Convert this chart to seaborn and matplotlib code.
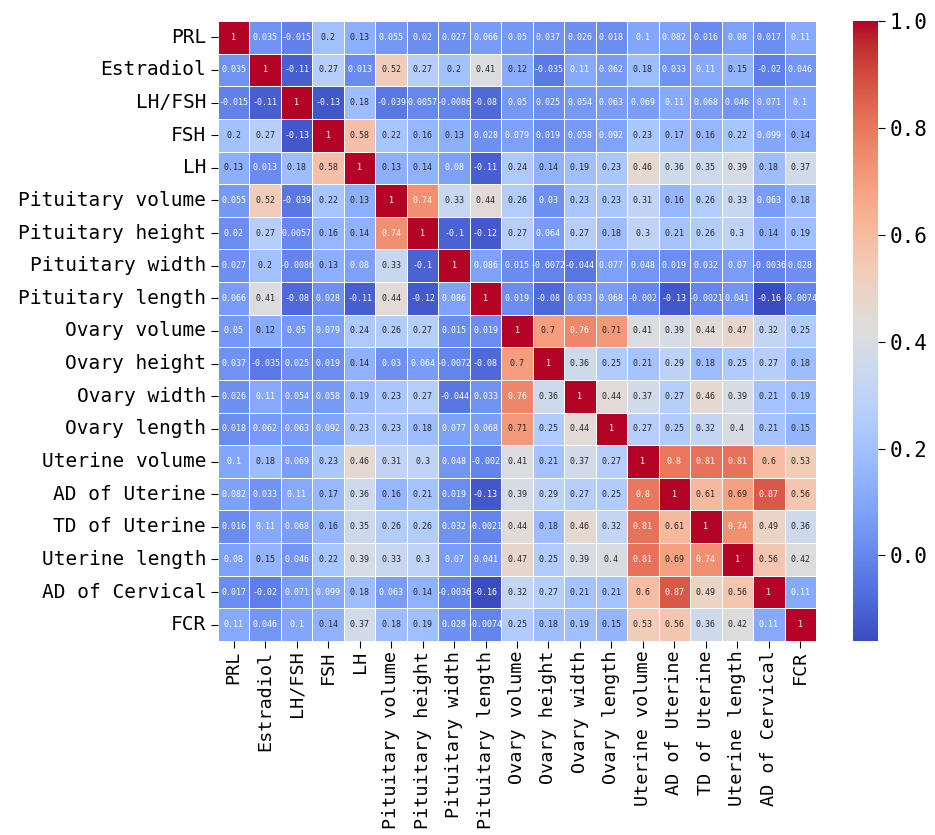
import numpy as np
import pandas as pd
import matplotlib
matplotlib.use("Agg")
import matplotlib.pyplot as plt
import seaborn as sns

# variable names (rows and columns of the correlation matrix)
labels = ["PRL", "Estradiol", "LH/FSH", "FSH", "LH",
          "Pituitary volume", "Pituitary height", "Pituitary width", "Pituitary length",
          "Ovary volume", "Ovary height", "Ovary width", "Ovary length",
          "Uterine volume", "AD of Uterine", "TD of Uterine", "Uterine length",
          "AD of Cervical", "FCR"]

# one list per row
prl = [1, 0.035, -0.015, 0.2, 0.13, 0.055, 0.02, 0.027, 0.066, 0.05, 0.037, 0.026, 0.018, 0.1, 0.082, 0.016, 0.08, 0.017, 0.11]
estradiol = [0.035, 1, -0.11, 0.27, 0.013, 0.52, 0.27, 0.2, 0.41, 0.12, -0.035, 0.11, 0.062, 0.18, 0.033, 0.11, 0.15, -0.02, 0.046]
lh_fsh = [-0.015, -0.11, 1, -0.13, 0.18, -0.039, 0.0057, -0.0086, -0.08, 0.05, 0.025, 0.054, 0.063, 0.069, 0.11, 0.068, 0.046, 0.071, 0.1]
fsh = [0.2, 0.27, -0.13, 1, 0.58, 0.22, 0.16, 0.13, 0.028, 0.079, 0.019, 0.058, 0.092, 0.23, 0.17, 0.16, 0.22, 0.099, 0.14]
lh = [0.13, 0.013, 0.18, 0.58, 1, 0.13, 0.14, 0.08, -0.11, 0.24, 0.14, 0.19, 0.23, 0.46, 0.36, 0.35, 0.39, 0.18, 0.37]
pit_vol = [0.055, 0.52, -0.039, 0.22, 0.13, 1, 0.74, 0.33, 0.44, 0.26, 0.03, 0.23, 0.23, 0.31, 0.16, 0.26, 0.33, 0.063, 0.18]
pit_height = [0.02, 0.27, 0.0057, 0.16, 0.14, 0.74, 1, -0.1, -0.12, 0.27, 0.064, 0.27, 0.18, 0.3, 0.21, 0.26, 0.3, 0.14, 0.19]
pit_width = [0.027, 0.2, -0.0086, 0.13, 0.08, 0.33, -0.1, 1, 0.086, 0.015, -0.0072, -0.044, 0.077, 0.048, 0.019, 0.032, 0.07, -0.0036, 0.028]
pit_length = [0.066, 0.41, -0.08, 0.028, -0.11, 0.44, -0.12, 0.086, 1, 0.019, -0.08, 0.033, 0.068, -0.002, -0.13, -0.0021, 0.041, -0.16, -0.0074]
ov_vol = [0.05, 0.12, 0.05, 0.079, 0.24, 0.26, 0.27, 0.015, 0.019, 1, 0.7, 0.76, 0.71, 0.41, 0.39, 0.44, 0.47, 0.32, 0.25]
ov_height = [0.037, -0.035, 0.025, 0.019, 0.14, 0.03, 0.064, -0.0072, -0.08, 0.7, 1, 0.36, 0.25, 0.21, 0.29, 0.18, 0.25, 0.27, 0.18]
ov_width = [0.026, 0.11, 0.054, 0.058, 0.19, 0.23, 0.27, -0.044, 0.033, 0.76, 0.36, 1, 0.44, 0.37, 0.27, 0.46, 0.39, 0.21, 0.19]
ov_length = [0.018, 0.062, 0.063, 0.092, 0.23, 0.23, 0.18, 0.077, 0.068, 0.71, 0.25, 0.44, 1, 0.27, 0.25, 0.32, 0.4, 0.21, 0.15]
ut_vol = [0.1, 0.18, 0.069, 0.23, 0.46, 0.31, 0.3, 0.048, -0.002, 0.41, 0.21, 0.37, 0.27, 1, 0.8, 0.81, 0.81, 0.6, 0.53]
ad_ut = [0.082, 0.033, 0.11, 0.17, 0.36, 0.16, 0.21, 0.019, -0.13, 0.39, 0.29, 0.27, 0.25, 0.8, 1, 0.61, 0.69, 0.87, 0.56]
td_ut = [0.016, 0.11, 0.068, 0.16, 0.35, 0.26, 0.26, 0.032, -0.0021, 0.44, 0.18, 0.46, 0.32, 0.81, 0.61, 1, 0.74, 0.49, 0.36]
ut_length = [0.08, 0.15, 0.046, 0.22, 0.39, 0.33, 0.3, 0.07, 0.041, 0.47, 0.25, 0.39, 0.4, 0.81, 0.69, 0.74, 1, 0.56, 0.42]
ad_cerv = [0.017, -0.02, 0.071, 0.099, 0.18, 0.063, 0.14, -0.0036, -0.16, 0.32, 0.27, 0.21, 0.21, 0.6, 0.87, 0.49, 0.56, 1, 0.11]
fcr = [0.11, 0.046, 0.1, 0.14, 0.37, 0.18, 0.19, 0.028, -0.0074, 0.25, 0.18, 0.19, 0.15, 0.53, 0.56, 0.36, 0.42, 0.11, 1]

rows = [prl, estradiol, lh_fsh, fsh, lh, pit_vol, pit_height, pit_width, pit_length,
        ov_vol, ov_height, ov_width, ov_length, ut_vol, ad_ut, td_ut, ut_length, ad_cerv, fcr]
corr = pd.DataFrame(rows, index=labels, columns=labels)

plt.rcParams['font.family'] = ['DejaVu Sans Mono', 'DejaVu Sans']

fig = plt.figure(figsize=(9.35, 8.35), dpi=100)
ax = fig.add_axes([218 / 935, 1 - 641 / 835, 598 / 935, 620 / 835])
cax = fig.add_axes([853 / 935, 1 - 641 / 835, 25 / 935, 620 / 835])

sns.heatmap(corr, ax=ax, cbar_ax=cax, cmap='coolwarm', annot=True,
            annot_kws={'fontsize': 6}, linewidths=0.5, linecolor='white')

ax.tick_params(axis='y', labelsize=14, length=5)
ax.tick_params(axis='x', labelsize=13.3, length=5, pad=2)
ax.set_xticklabels(labels, rotation=90)
ax.set_yticklabels(labels, rotation=0)
cax.tick_params(labelsize=15, length=5)
cax.set_yticks([0.0, 0.2, 0.4, 0.6, 0.8, 1.0])

fig.savefig("out.png", dpi=100)
